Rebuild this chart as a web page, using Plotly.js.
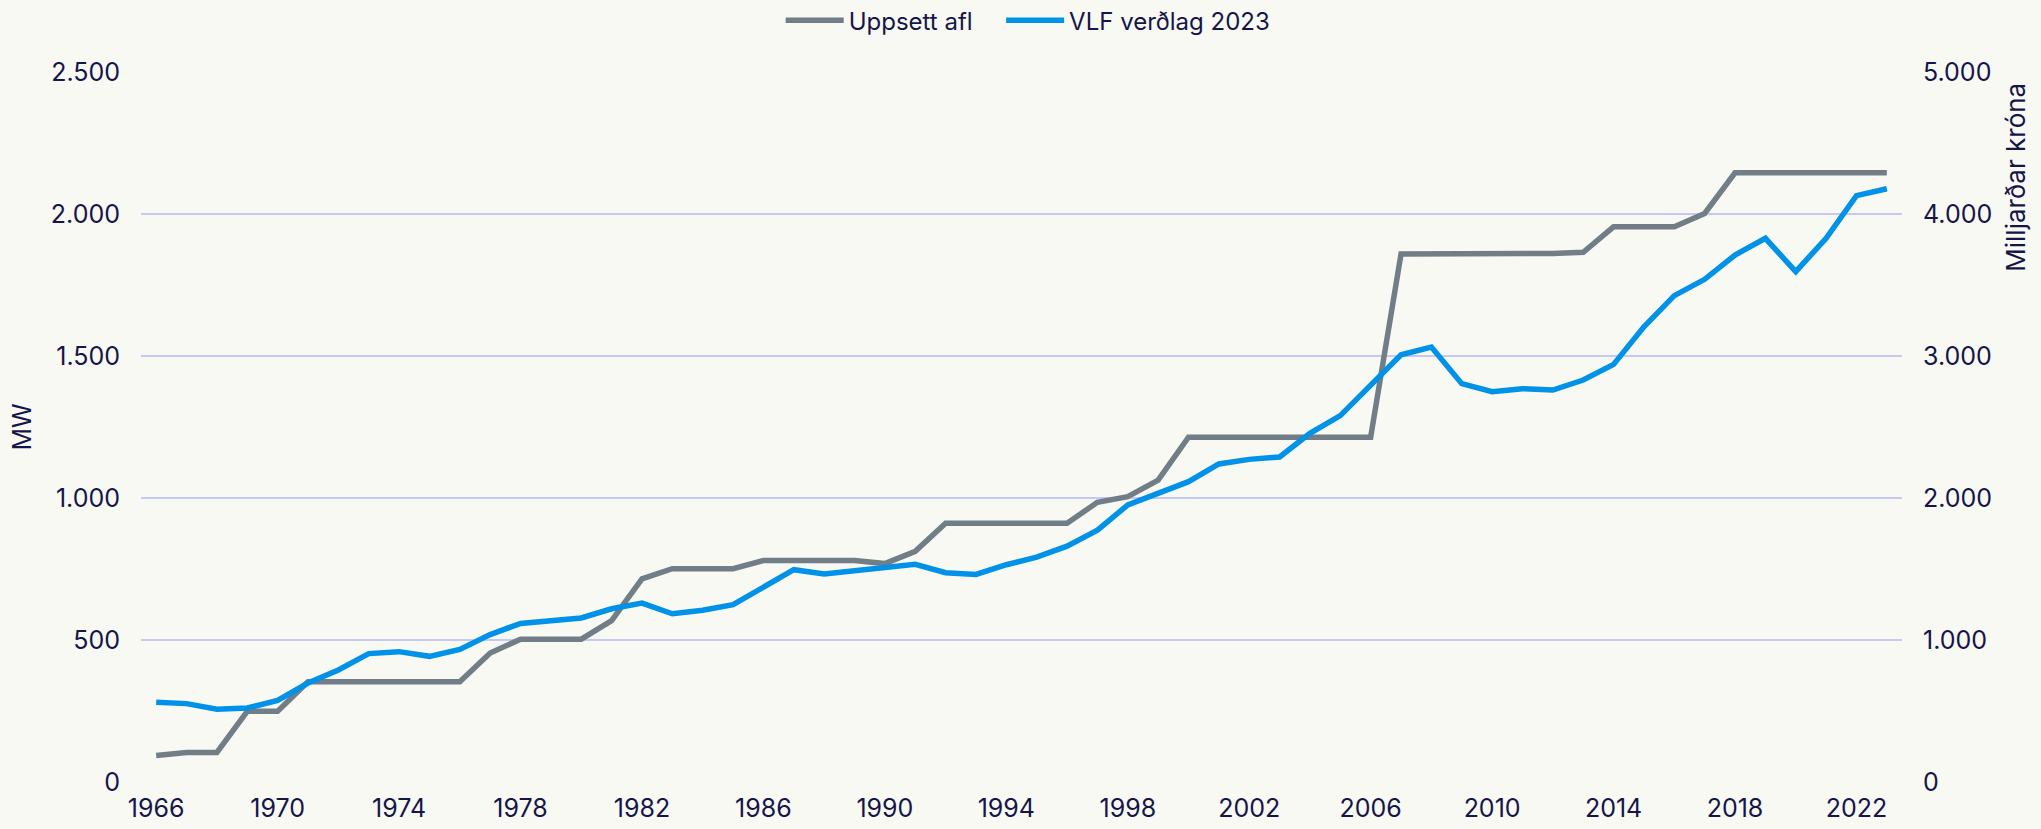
<!DOCTYPE html>
<html>
<head>
<meta charset="utf-8">
<script src="https://cdn.plot.ly/plotly-3.0.1.min.js"></script>
<style>
  html, body { margin: 0; padding: 0; background: #f8f9f3; }
  #chart { width: 2041px; height: 829px; }
</style>
</head>
<body>
<div id="chart"></div>
<script>
const years = [1966,1967,1968,1969,1970,1971,1972,1973,1974,1975,1976,1977,1978,1979,1980,1981,1982,1983,1984,1985,1986,1987,1988,1989,1990,1991,1992,1993,1994,1995,1996,1997,1998,1999,2000,2001,2002,2003,2004,2005,2006,2007,2008,2009,2010,2011,2012,2013,2014,2015,2016,2017,2018,2019,2020,2021,2022,2023];

// Uppsett afl (MW) – left axis
const uppsettAfl = [93,104,104,249,249,353,353,353,353,353,353,454,503,503,503,568,715,751,751,751,780,780,780,780,769,812,911,911,911,911,911,985,1005,1063,1214,1214,1214,1214,1214,1214,1214,1859,1859,1860,1860,1860,1861,1865,1955,1955,1955,2002,2145,2145,2145,2145,2145,2145];

// VLF verðlag 2023 (milljarðar króna) – right axis
const vlf = [561,552,512,521,575,697,789,904,918,885,934,1038,1117,1134,1155,1220,1260,1185,1209,1249,1368,1495,1465,1488,1512,1533,1474,1462,1530,1584,1661,1774,1951,2033,2115,2240,2272,2289,2455,2580,2796,3009,3063,2805,2748,2770,2760,2831,2941,3206,3425,3540,3711,3829,3594,3829,4129,4178];

const xTicks = [1966,1970,1974,1978,1982,1986,1990,1994,1998,2002,2006,2010,2014,2018,2022];
const leftTicks = [0,500,1000,1500,2000,2500];
const leftTickText = ['0','500','1.000','1.500','2.000','2.500'];
const rightTicks = [0,1000,2000,3000,4000,5000];
const rightTickText = ['0','1.000','2.000','3.000','4.000','5.000'];

const textColor = '#15154a';
const gridColor = '#c8c8f6';
const FONT = 'Inter, "Open Sans", sans-serif';
const FS = 25;

const legendFont = { family: FONT, size: 24, color: textColor };

const traces = [
  {
    x: years, y: uppsettAfl, name: 'Uppsett afl', type: 'scatter', mode: 'lines',
    line: { color: '#717e88', width: 5.5 }, yaxis: 'y', legend: 'legend'
  },
  {
    x: years, y: vlf, name: 'VLF verðlag 2023', type: 'scatter', mode: 'lines',
    line: { color: '#0092e8', width: 5.5 }, yaxis: 'y2', legend: 'legend2'
  }
];

const layout = {
  width: 2041, height: 829,
  paper_bgcolor: '#f8f9f3', plot_bgcolor: '#f8f9f3',
  font: { family: FONT, size: FS, color: textColor },
  margin: { l: 141, r: 139, t: 72, b: 47, pad: 0, autoexpand: false },
  showlegend: true,
  legend: {
    orientation: 'h', x: 0.3825, xref: 'container', xanchor: 'left',
    y: 0.975, yref: 'container', yanchor: 'middle',
    font: legendFont, bgcolor: 'rgba(0,0,0,0)', itemwidth: 58
  },
  legend2: {
    orientation: 'h', x: 0.4905, xref: 'container', xanchor: 'left',
    y: 0.975, yref: 'container', yanchor: 'middle',
    font: legendFont, bgcolor: 'rgba(0,0,0,0)', itemwidth: 58
  },
  xaxis: {
    range: [1965.5, 2023.5], tickmode: 'array', tickvals: xTicks,
    ticktext: xTicks.map(String), showgrid: false, zeroline: false, showline: false,
    ticks: '', ticklabelstandoff: 9, fixedrange: true,
    tickfont: { family: FONT, size: FS, color: textColor }
  },
  yaxis: {
    range: [0, 2500], tickmode: 'array', tickvals: leftTicks, ticktext: leftTickText,
    showgrid: true, gridcolor: gridColor, gridwidth: 2, zeroline: false, showline: false,
    ticks: '', ticklabelstandoff: 20,
    tickfont: { family: FONT, size: FS, color: textColor },
    title: { text: 'MW', standoff: 12, font: { family: FONT, size: FS, color: textColor } },
    automargin: false
  },
  yaxis2: {
    range: [0, 5000], overlaying: 'y', side: 'right', tickmode: 'array',
    tickvals: rightTicks, ticktext: rightTickText, showgrid: false, zeroline: false,
    showline: false, ticks: '', ticklabelstandoff: 20,
    tickfont: { family: FONT, size: FS, color: textColor }, automargin: false
  },
  annotations: [
    {
      text: 'Milljarðar króna', xref: 'paper', yref: 'paper',
      x: 1.064, xanchor: 'center', y: 0.988, yanchor: 'top',
      textangle: -90, showarrow: false,
      font: { family: FONT, size: 26, color: textColor }
    }
  ]
};

Plotly.newPlot('chart', traces, layout, { displayModeBar: false, staticPlot: true });
</script>
</body>
</html>
